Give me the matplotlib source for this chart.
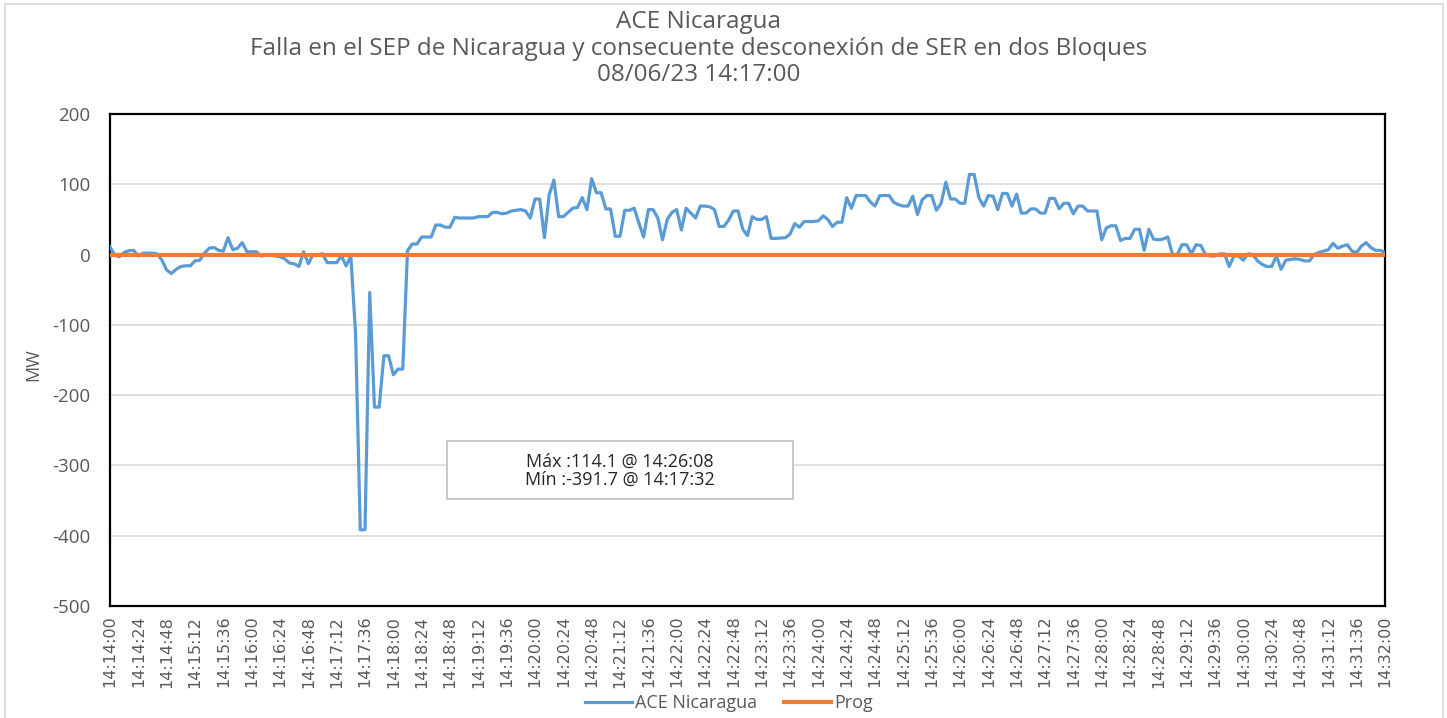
import numpy as np
import matplotlib
matplotlib.use("Agg")
import matplotlib.pyplot as plt
from matplotlib import font_manager
from matplotlib.patches import Rectangle

# ---------------- data ----------------
start_label = "14:14:00"
sample_step_s = 4
ace_nicaragua = [
    11, -1, -3, 3, 5.5, 6, -2, 2, 2, 2,
    1, -8, -22, -27, -21, -17, -16, -16, -9, -8,
    2, 9, 10, 6, 5, 24, 7, 9, 17, 4,
    4, 4, -2, -1, 0, -2, -3, -6, -12, -13,
    -17, 4, -13, 0, 0, 1, -11.5, -11.5, -11.5, -2,
    -16, -2, -112, -391.7, -391.5, -54, -217, -217, -144, -144,
    -171, -163, -163, 5.5, 15, 15, 25, 25, 25, 42,
    42, 39, 39, 53, 52, 52, 52, 52, 54, 54,
    54, 60, 60, 58, 59, 62, 63, 64, 62, 52,
    79, 79, 24, 85, 106, 54, 54, 60, 66, 67,
    81, 64, 108, 88, 88, 65, 65, 26, 26, 63,
    63, 66, 45, 25, 64, 64, 52, 21, 50, 60,
    64, 35, 66, 59, 52, 69, 69, 68, 64, 40,
    40, 49, 62, 62, 36, 27, 54, 50, 50, 54,
    23, 23, 23.5, 24, 29, 44, 39, 47, 47, 47,
    48, 55, 50, 40, 46, 46, 81, 66, 84, 84,
    84, 75, 69, 84, 84, 84, 74, 71, 69, 69,
    83, 57, 78, 84, 84, 63, 73, 103, 79, 79,
    73, 73, 114.1, 114, 81, 69, 84, 83, 64, 87,
    87, 69, 86, 59, 59, 65, 65, 59, 59, 80,
    80, 65, 73, 73, 58, 69, 69, 62, 62, 62,
    21, 38, 41, 41, 20, 23, 23, 36, 36, 6,
    36, 22, 21, 22, 25, 0, 0, 14, 14, 1,
    14, 13, 0, -2, -2, 1, 1, -17, -2, -2,
    -8, 1, 0, -9, -14, -17, -17, -2, -21, -8,
    -7, -6, -7, -9, -9, 0, 3, 5, 7, 16,
    9, 12, 14, 5, 3, 12, 17, 10, 6, 6,
    3,
]
prog = [0] * len(ace_nicaragua)

tick_labels = [
    "14:14:00", "14:14:24", "14:14:48", "14:15:12", "14:15:36", "14:16:00",
    "14:16:24", "14:16:48", "14:17:12", "14:17:36", "14:18:00", "14:18:24",
    "14:18:48", "14:19:12", "14:19:36", "14:20:00", "14:20:24", "14:20:48",
    "14:21:12", "14:21:36", "14:22:00", "14:22:24", "14:22:48", "14:23:12",
    "14:23:36", "14:24:00", "14:24:24", "14:24:48", "14:25:12", "14:25:36",
    "14:26:00", "14:26:24", "14:26:48", "14:27:12", "14:27:36", "14:28:00",
    "14:28:24", "14:28:48", "14:29:12", "14:29:36", "14:30:00", "14:30:24",
    "14:30:48", "14:31:12", "14:31:36", "14:32:00",
]
tick_step_s = 24

title_lines = ["ACE Nicaragua",
               "Falla en el SEP de Nicaragua y consecuente desconexión de SER en dos Bloques",
               "08/06/23 14:17:00"]
note_text = "Máx :114.1 @ 14:26:08\nMín :-391.7 @ 14:17:32"

# ---------------- style ----------------
names = {f.name for f in font_manager.fontManager.ttflist}
main_font = "Open Sans" if "Open Sans" in names else "DejaVu Sans"
tick_font = "Liberation Sans Narrow" if "Liberation Sans Narrow" in names else "DejaVu Sans"
plt.rcParams["font.family"] = [main_font, "DejaVu Sans"]
plt.rcParams["axes.unicode_minus"] = False

gray_txt = "#595959"
blue = "#5B9BD5"
orange = "#ED7D31"

W, H = 1447, 718
fig = plt.figure(figsize=(W / 100, H / 100), dpi=100)
ax = fig.add_axes([110 / W, 1 - 606 / H, (1385 - 110) / W, (606 - 114) / H])

t = np.arange(len(ace_nicaragua)) * sample_step_s
ax.plot(t, ace_nicaragua, color=blue, lw=2.3, label="ACE Nicaragua", zorder=3,
        solid_joinstyle="round")
ax.plot(t, prog, color=orange, lw=3.0, label="Prog", zorder=4)

ax.set_xlim(0, t[-1])
ax.set_ylim(-500, 200)
ax.set_yticks(np.arange(-500, 201, 100))
ax.grid(axis="y", color="#D9D9D9", lw=1.2, zorder=0)
ax.set_axisbelow(True)

xt = np.arange(len(tick_labels)) * tick_step_s
ax.set_xticks(xt)
ax.set_xticklabels(tick_labels, rotation=90, fontsize=11.5, color=gray_txt,
                   family=[tick_font, "DejaVu Sans"])
ax.tick_params(axis="x", length=0, pad=7)
ax.tick_params(axis="y", length=0, pad=14, labelsize=13.5, labelcolor=gray_txt)
for s in ax.spines.values():
    s.set_color("#000000")
    s.set_linewidth(1.6)

fig.text(33 / W, 1 - 365 / H, "MW", rotation=90, ha="center", va="center",
         fontsize=13, color=gray_txt)

for line, yp in zip(title_lines, (22, 49, 75)):
    fig.text(699 / W, 1 - yp / H, line, ha="center", va="center",
             fontsize=17.5, color=gray_txt)

# annotation box
fig.patches.append(Rectangle((447 / W, 1 - 499 / H), (793 - 447) / W, (499 - 441) / H,
                             transform=fig.transFigure, facecolor="white",
                             edgecolor="#BFBFBF", lw=1.2, zorder=5))
fig.text(620 / W, 1 - 471 / H, note_text, ha="center", va="center", fontsize=13,
         color="#262626", linespacing=0.97, zorder=6)

# outer chart border
fig.patches.append(Rectangle((5 / W, -0.02), (1443 - 5) / W, 1.02 - 4 / H,
                             transform=fig.transFigure, facecolor="none",
                             edgecolor="#D9D9D9", lw=1.2))

fig.legend(loc="center", bbox_to_anchor=(729 / W, 1 - 703 / H), ncol=2,
           frameon=False, fontsize=13, handlelength=2.6, handletextpad=0.15,
           columnspacing=1.5, labelcolor=gray_txt)

fig.savefig("out.png", dpi=100)
